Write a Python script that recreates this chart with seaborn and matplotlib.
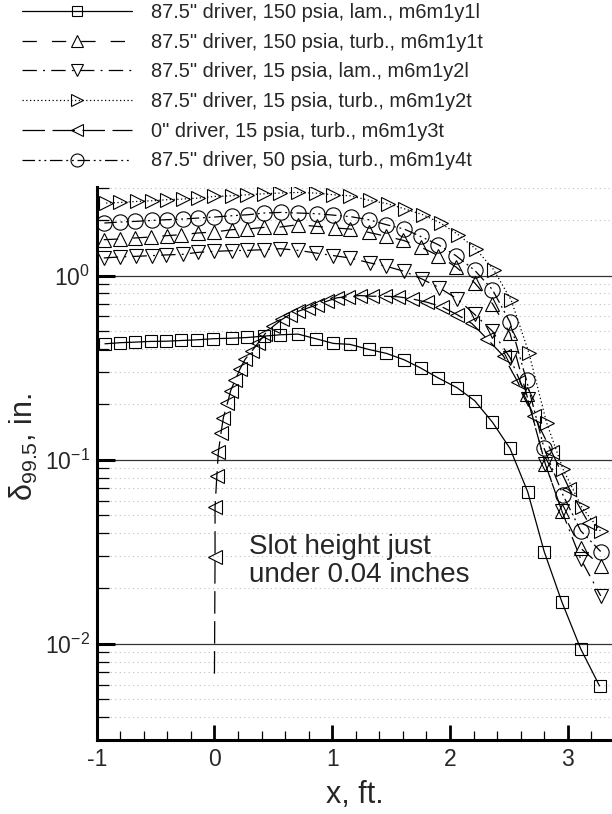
import matplotlib
matplotlib.use("Agg")
import matplotlib.pyplot as plt
import matplotlib.ticker as mticker
import seaborn as sns

# Boundary-layer thickness along the nozzle wall for six computed cases
labels = [
    '87.5" driver, 150 psia, lam., m6m1y1l',
    '87.5" driver, 150 psia, turb., m6m1y1t',
    '87.5" driver, 15 psia, lam., m6m1y2l',
    '87.5" driver, 15 psia, turb., m6m1y2t',
    '0" driver, 15 psia, turb., m6m1y3t',
    '87.5" driver, 50 psia, turb., m6m1y4t',
]

x_y1l = [-0.93, -0.80, -0.675, -0.54, -0.41, -0.28, -0.145, -0.01, 0.15, 0.28,
         0.42, 0.56, 0.71, 0.86, 1.01, 1.15, 1.31, 1.46, 1.61, 1.75,
         1.90, 2.06, 2.21, 2.36, 2.51, 2.66, 2.80, 2.95, 3.11, 3.27]
d_y1l = [0.426, 0.432, 0.435, 0.439, 0.440, 0.444, 0.448, 0.454, 0.457, 0.461,
         0.469, 0.477, 0.481, 0.454, 0.428, 0.423, 0.397, 0.378, 0.349, 0.315,
         0.278, 0.246, 0.209, 0.160, 0.115, 0.0669, 0.0317, 0.0169, 0.0094, 0.0059]

x_y1t = [-0.94, -0.80, -0.675, -0.54, -0.405, -0.28, -0.14, 0.0, 0.15, 0.28,
         0.42, 0.56, 0.71, 0.87, 1.02, 1.15, 1.31, 1.46, 1.605, 1.75,
         1.90, 2.05, 2.21, 2.36, 2.51, 2.65, 2.81, 2.95, 3.11, 3.28]
d_y1t = [1.567, 1.581, 1.601, 1.621, 1.648, 1.668, 1.704, 1.725, 1.776, 1.791,
         1.827, 1.836, 1.890, 1.850, 1.814, 1.791, 1.717, 1.633, 1.553, 1.431,
         1.284, 1.115, 0.913, 0.705, 0.485, 0.227, 0.0945, 0.0528, 0.0330, 0.0266]

x_y2l = [-0.94, -0.80, -0.67, -0.53, -0.41, -0.27, -0.14, 0.0, 0.15, 0.28,
         0.42, 0.56, 0.71, 0.86, 1.01, 1.15, 1.32, 1.46, 1.61, 1.76,
         1.91, 2.06, 2.21, 2.36, 2.51, 2.66, 2.81, 2.95, 3.11, 3.28]
d_y2l = [1.247, 1.263, 1.272, 1.284, 1.295, 1.305, 1.337, 1.354, 1.366, 1.371,
         1.383, 1.400, 1.371, 1.327, 1.284, 1.247, 1.172, 1.123, 1.055, 0.960,
         0.858, 0.748, 0.615, 0.499, 0.358, 0.213, 0.0945, 0.0526, 0.0289, 0.0182]

x_y2t = [-0.92, -0.80, -0.66, -0.53, -0.405, -0.27, -0.14, 0.0, 0.15, 0.28,
         0.42, 0.56, 0.71, 0.86, 1.01, 1.15, 1.32, 1.47, 1.62, 1.77,
         1.92, 2.07, 2.22, 2.37, 2.52, 2.67, 2.82, 2.96, 3.12, 3.28]
d_y2t = [2.478, 2.496, 2.527, 2.550, 2.582, 2.605, 2.637, 2.691, 2.714, 2.748,
         2.783, 2.807, 2.828, 2.807, 2.748, 2.714, 2.559, 2.456, 2.299, 2.141,
         1.930, 1.668, 1.395, 1.078, 0.735, 0.381, 0.159, 0.0888, 0.0551, 0.0408]

x_y3t = [0.0, 0.005, 0.005, 0.020, 0.033, 0.056, 0.076, 0.110, 0.138, 0.175,
         0.218, 0.260, 0.317, 0.373, 0.430, 0.500, 0.572, 0.642, 0.713, 0.798,
         0.874, 0.954, 1.039, 1.138, 1.237, 1.336, 1.449, 1.562, 1.676, 1.804,
         1.931, 2.059, 2.186, 2.314, 2.455, 2.575, 2.715, 2.866, 3.015, 3.177]
d_y3t = [0.00688, 0.0295, 0.0551, 0.0811, 0.1094, 0.1404, 0.1694, 0.2024, 0.2374, 0.2698,
         0.3121, 0.3505, 0.3888, 0.4317, 0.4831, 0.5312, 0.5776, 0.6146, 0.6405, 0.6682,
         0.6963, 0.7254, 0.7570, 0.7694, 0.7792, 0.7724, 0.7724, 0.7667, 0.7477, 0.7167,
         0.6766, 0.6146, 0.5494, 0.4538, 0.3652, 0.2648, 0.1728, 0.1094, 0.0692, 0.0453]

x_y4t = [-0.935, -0.80, -0.675, -0.533, -0.405, -0.27, -0.137, 0.0, 0.147, 0.285,
         0.42, 0.563, 0.713, 0.87, 1.01, 1.16, 1.31, 1.46, 1.61, 1.75,
         1.90, 2.05, 2.21, 2.36, 2.51, 2.65, 2.80, 2.96, 3.11, 3.28]
d_y4t = [1.930, 1.954, 1.969, 1.994, 2.012, 2.029, 2.054, 2.080, 2.114, 2.141,
         2.187, 2.204, 2.187, 2.168, 2.13, 2.088, 2.012, 1.890, 1.791, 1.633,
         1.472, 1.284, 1.068, 0.840, 0.558, 0.270, 0.115, 0.0642, 0.0411, 0.0317]

x_ticks = [-1, 0, 1, 2, 3]
y_ticks = [0.01, 0.1, 1.0]
y_tick_labels = [r"$\mathregular{10^{-2}}$", r"$\mathregular{10^{-1}}$", r"$\mathregular{10^{0}}$"]
note_lines = ["Slot height just", "under 0.04 inches"]

sns.set_theme(style="white")
plt.rcParams["font.family"] = ["Liberation Sans", "DejaVu Sans"]
plt.rcParams["mathtext.fontset"] = "custom"
plt.rcParams["mathtext.rm"] = "Liberation Sans"
plt.rcParams["mathtext.it"] = "Liberation Sans:italic"
plt.rcParams["mathtext.bf"] = "Liberation Sans:bold"

fig = plt.figure(figsize=(6.12, 8.14), dpi=100)
ax = fig.add_axes([96.7 / 612, 1 - 740 / 814, 1 - 96.7 / 612, (740 - 186.7) / 814])
ax.set_yscale("log")

styles = [
    dict(x=x_y1l, y=d_y1l, linestyle="-", marker="s", markersize=8),
    dict(x=x_y1t, y=d_y1t, linestyle=(0, (11.5, 12)), marker="^", markersize=9.5),
    dict(x=x_y2l, y=d_y2l, linestyle=(0, (11.5, 5, 1.5, 5)), marker="v", markersize=9.5),
    dict(x=x_y2t, y=d_y2t, linestyle=(0, (1, 2)), marker=">", markersize=9.5),
    dict(x=x_y3t, y=d_y3t, linestyle=(0, (18, 6)), marker="<", markersize=9.5,
         markevery=list(range(1, len(x_y3t)))),
    dict(x=x_y4t, y=d_y4t, linestyle=(0, (10, 3, 1.5, 3, 1.5, 3)), marker="o", markersize=11),
]

for lab, st in zip(labels, styles):
    xs = st.pop("x")
    ys = st.pop("y")
    sns.lineplot(x=xs, y=ys, ax=ax, sort=False, estimator=None, errorbar=None,
                 color="black", linewidth=0.9, markerfacecolor="none",
                 markeredgecolor="black", markeredgewidth=0.8, label=lab, **st)

ax.set_xlim(-1, 3.376)
ax.set_ylim(0.003, 3.04)

# grid: solid decades, dotted minor lines
ax.yaxis.grid(True, which="major", color="0.2", linewidth=0.9, linestyle="-")
ax.yaxis.grid(True, which="minor", color="0.75", linewidth=0.8, linestyle=(0, (1, 3)))
ax.xaxis.grid(False)
ax.set_axisbelow(True)

ax.set_xticks(x_ticks)
ax.set_xticklabels([str(v) for v in x_ticks])
ax.xaxis.set_minor_locator(mticker.MultipleLocator(0.2))
ax.set_yticks(y_ticks)
ax.set_yticklabels(y_tick_labels)
ax.yaxis.set_minor_locator(mticker.LogLocator(base=10, subs=range(2, 10)))
ax.yaxis.set_minor_formatter(mticker.NullFormatter())

for side in ["top", "right"]:
    ax.spines[side].set_visible(False)
for side in ["left", "bottom"]:
    ax.spines[side].set_linewidth(2.2)
    ax.spines[side].set_color("black")

ax.tick_params(axis="x", which="major", direction="in", length=11, width=2.0,
               labelsize=16.5, pad=6, color="black", bottom=True)
ax.tick_params(axis="x", which="minor", direction="in", length=6.5, width=0.9,
               color="black", bottom=True)
ax.tick_params(axis="y", which="major", direction="in", length=13, width=2.2,
               labelsize=16.5, pad=5, color="black", left=True)
ax.tick_params(axis="y", which="minor", direction="in", length=8.6, width=0.9,
               color="black", left=True)

ax.set_xlabel("x, ft.", fontsize=22, labelpad=6)
ax.set_ylabel(r"δ$_{\mathregular{99.5}}$, in.", fontsize=22)
ax.yaxis.set_label_coords(-0.11, 0.53)

ax.text(0.294, 0.0307, note_lines[0], fontsize=20, ha="left", va="baseline")
ax.text(0.294, 0.0216, note_lines[1], fontsize=20, ha="left", va="baseline")

handles, labs = ax.get_legend_handles_labels()
ax.get_legend().remove()
fig.legend(handles, labs, loc="upper left", bbox_to_anchor=(22 / 612, 1 - 3 / 814),
           frameon=False, fontsize=14.4, handlelength=5.5, handletextpad=0.95,
           labelspacing=0.535, borderaxespad=0, borderpad=0, numpoints=1,
           markerscale=0.85)

fig.savefig("out.png", dpi=100)
